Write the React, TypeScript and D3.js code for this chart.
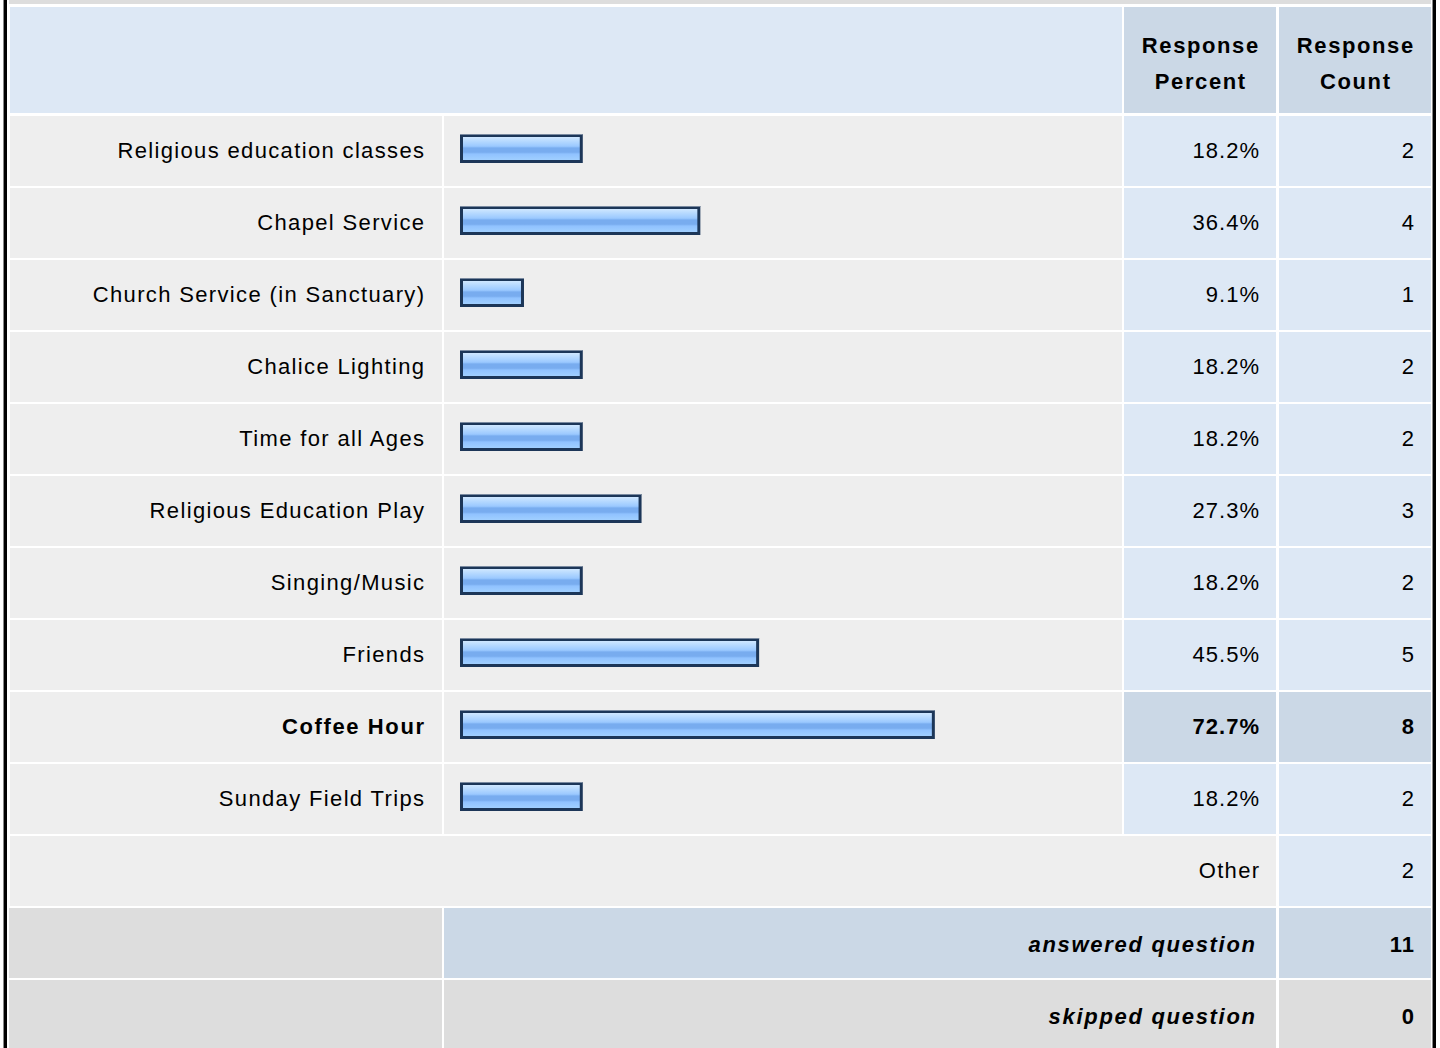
import * as d3 from "d3"
import { useEffect } from "react"

const labels = [
  "Religious education classes",
  "Chapel Service",
  "Church Service (in Sanctuary)",
  "Chalice Lighting",
  "Time for all Ages",
  "Religious Education Play",
  "Singing/Music",
  "Friends",
  "Coffee Hour",
  "Sunday Field Trips",
]
const percents = [18.2, 36.4, 9.1, 18.2, 18.2, 27.3, 18.2, 45.5, 72.7, 18.2]
const counts = [2, 4, 1, 2, 2, 3, 2, 5, 8, 2]
const otherCount = 2
const answered = 11
const skipped = 0
const headers = [
  ["Response", "Percent"],
  ["Response", "Count"],
]

const W = 1440
const H = 1048
const FONT = "Arial, 'Liberation Sans', sans-serif"

// column edges
const COL = {
  label: [10, 442],
  bar: [444, 1122],
  pct: [1124, 1276],
  cnt: [1279, 1431],
}

const LIGHT = "#eeeeee"
const BLUE = "#dde8f5"
const BLUE2 = "#cbd8e6"
const GRAY = "#dddddd"

export default function App() {
  useEffect(() => {
    document.body.style.margin = "0"
  }, [])

  const row = d3.scaleLinear().domain([0, 1]).range([116, 188])
  const rowH = 70
  const x = d3.scaleLinear().domain([0, 100]).range([465.2, 1111.2])
  const maxIdx = percents.indexOf(d3.max(percents)!)

  const cell = (x0: number, x1: number, y0: number, fill: string, h = rowH) => (
    <rect x={x0} y={y0} width={x1 - x0} height={h} fill={fill} />
  )

  const txt = (
    s: string | number,
    xEnd: number,
    y: number,
    opts: { bold?: boolean; italic?: boolean; anchor?: string; ls?: number } = {}
  ) => {
    const anchor = opts.anchor ?? "end"
    const ls = opts.ls ?? 1.3
    const dx = anchor === "end" ? ls : anchor === "middle" ? ls / 2 : 0
    return (
      <text
        x={xEnd + dx}
        y={y}
        textAnchor={anchor as any}
        fontFamily={FONT}
        fontSize={22}
        letterSpacing={ls}
        fontWeight={opts.bold ? "bold" : "normal"}
        fontStyle={opts.italic ? "italic" : "normal"}
        fill="#000"
      >
        {s}
      </text>
    )
  }

  const nOther = labels.length
  const yOther = row(nOther)
  const yAns = row(nOther + 1)
  const ySkip = row(nOther + 2)

  return (
    <svg width={W} height={H} style={{ display: "block" }}>
      <defs>
        <linearGradient id="barFill" x1="0" y1="0" x2="0" y2="1">
          <stop offset="0" stopColor="#cfe7ff" />
          <stop offset="0.2" stopColor="#b4d8ff" />
          <stop offset="0.4" stopColor="#9bc9ff" />
          <stop offset="0.48" stopColor="#78acef" />
          <stop offset="0.66" stopColor="#78acef" />
          <stop offset="0.74" stopColor="#90c2ff" />
          <stop offset="1" stopColor="#a0cfff" />
        </linearGradient>
      </defs>
      <rect x={0} y={0} width={W} height={H} fill="#ffffff" />

      {/* cut-off previous row */}
      {cell(9, COL.cnt[1], 0, GRAY, 4)}

      {/* header */}
      {cell(10, 1122, 7, BLUE, 106)}
      {cell(COL.pct[0], COL.pct[1], 7, BLUE2, 106)}
      {cell(COL.cnt[0], COL.cnt[1], 7, BLUE2, 106)}
      {headers.map((h, i) => {
        const c = i === 0 ? COL.pct : COL.cnt
        const cx = (c[0] + c[1]) / 2
        return (
          <g key={i}>
            {txt(h[0], cx, 53, { bold: true, anchor: "middle", ls: 1.6 })}
            {txt(h[1], cx, 89, { bold: true, anchor: "middle", ls: 1.6 })}
          </g>
        )
      })}

      {/* answer rows */}
      {labels.map((l, i) => {
        const y0 = row(i)
        const hi = i === maxIdx
        const bx0 = 460
        const bx1 = x(percents[i])
        const by0 = y0 + 18
        const bh = 29
        return (
          <g key={l}>
            {cell(COL.label[0], COL.label[1], y0, LIGHT)}
            {cell(COL.bar[0], COL.bar[1], y0, LIGHT)}
            {cell(COL.pct[0], COL.pct[1], y0, hi ? BLUE2 : BLUE)}
            {cell(COL.cnt[0], COL.cnt[1], y0, hi ? BLUE2 : BLUE)}
            <rect x={bx0} y={by0} width={bx1 - bx0} height={bh} fill="#1c3658" />
            <rect x={bx0} y={by0} width={bx1 - bx0} height={1} fill="#7a8aa0" />
            <rect
              x={bx0 + 3}
              y={by0 + 3}
              width={bx1 - bx0 - 6}
              height={bh - 6}
              fill="url(#barFill)"
            />
            {txt(l, 424, y0 + 42, { bold: hi, ls: hi ? 1.6 : 1.35 })}
            {txt(`${percents[i]}%`, 1259, y0 + 42, { bold: hi, ls: 1 })}
            {txt(counts[i], 1414, y0 + 42, { bold: hi, ls: 1 })}
          </g>
        )
      })}

      {/* other */}
      {cell(COL.label[0], COL.pct[1], yOther, LIGHT)}
      {cell(COL.cnt[0], COL.cnt[1], yOther, BLUE)}
      {txt("Other", 1259, yOther + 42)}
      {txt(otherCount, 1414, yOther + 42, { ls: 1 })}

      {/* answered */}
      {cell(9, COL.label[1], yAns, GRAY)}
      {cell(COL.bar[0], COL.pct[1], yAns, BLUE2)}
      {cell(COL.cnt[0], COL.cnt[1], yAns, BLUE2)}
      {txt("answered question", 1255, yAns + 44, { bold: true, italic: true, ls: 1.7 })}
      {txt(answered, 1414, yAns + 44, { bold: true, ls: 1 })}

      {/* skipped */}
      {cell(9, COL.label[1], ySkip, GRAY)}
      {cell(COL.bar[0], COL.pct[1], ySkip, GRAY)}
      {cell(COL.cnt[0], COL.cnt[1], ySkip, GRAY)}
      {txt("skipped question", 1255, ySkip + 44, { bold: true, italic: true, ls: 1.7 })}
      {txt(skipped, 1414, ySkip + 44, { bold: true, ls: 1 })}

      {/* outer frame */}
      <rect x={3} y={0} width={1} height={H} fill="#888" />
      <rect x={4} y={0} width={3} height={H} fill="#000" />
      <rect x={1432} y={0} width={1} height={H} fill="#888" />
      <rect x={1433} y={0} width={3} height={H} fill="#000" />
    </svg>
  )
}
